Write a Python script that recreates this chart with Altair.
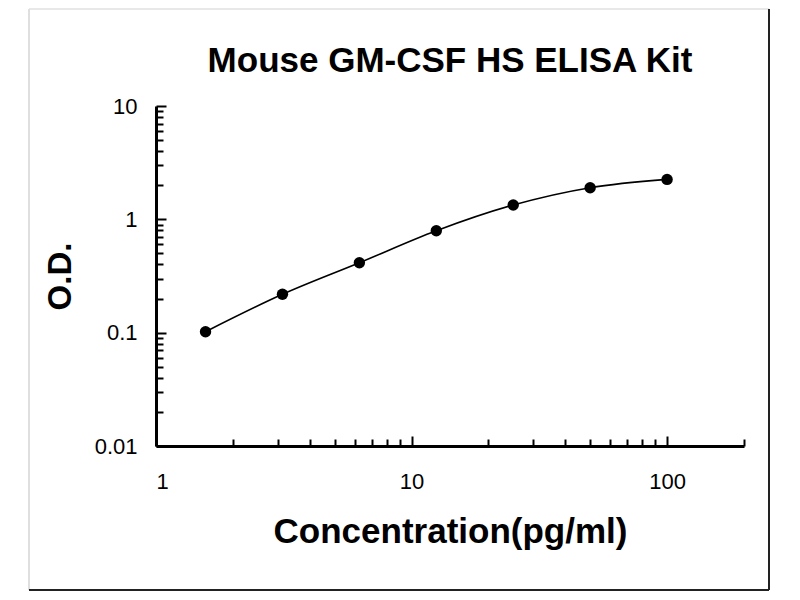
import altair as alt
import pandas as pd

# Standard curve data
conc = [1.5625, 3.125, 6.25, 12.5, 25, 50, 100]
od = [0.102, 0.218, 0.414, 0.793, 1.337, 1.90, 2.25]

x_tick_values = [1, 2, 3, 4, 5, 6, 7, 8, 9, 10, 20, 30, 40, 50, 60, 70, 80, 90, 100, 200]
y_tick_values = [0.01, 0.02, 0.03, 0.04, 0.05, 0.06, 0.07, 0.08, 0.09,
                 0.1, 0.2, 0.3, 0.4, 0.5, 0.6, 0.7, 0.8, 0.9,
                 1, 2, 3, 4, 5, 6, 7, 8, 9, 10]
x_label_values = [1, 10, 100]
y_label_values = [0.01, 0.1, 1, 10]

df = pd.DataFrame({"conc": conc, "od": od})

W, H = 588, 340
FONT = "Liberation Sans"


def is_in(vals):
    return " || ".join(f"datum.value == {v}" for v in vals)


x_scale = alt.Scale(type="log", domain=[1, 200], nice=False)
y_scale = alt.Scale(type="log", domain=[0.01, 10], nice=False)

# Axes carrying labels, domain lines and titles (no ticks)
x_label_axis = alt.Axis(
    orient="bottom",
    values=x_label_values,
    format="~g",
    labelFont=FONT, labelFontSize=22, labelColor="black", labelPadding=25,
    ticks=False, tickSize=0,
    domainWidth=3, domainColor="black",
    grid=False,
    title="Concentration(pg/ml)",
    titleFont=FONT, titleFontSize=35, titleFontWeight="bold", titleColor="black",
    titleBaseline="alphabetic", titleY=96,
)
y_label_axis = alt.Axis(
    orient="left",
    values=y_label_values,
    format="~g",
    labelFont=FONT, labelFontSize=22, labelColor="black", labelPadding=19,
    ticks=False, tickSize=0,
    domainWidth=3, domainColor="black",
    grid=False,
    title="O.D.",
    titleFont=FONT, titleFontSize=33, titleFontWeight="bold", titleColor="black",
    titleBaseline="alphabetic", titleX=-86,
)

# Axes carrying only the inward-pointing ticks (placed on the same edges)
x_tick_axis = alt.Axis(
    orient="top", offset=-H,
    values=x_tick_values,
    labels=False, domain=False, grid=False, title=None,
    tickColor="black", tickWidth=2,
    tickSize={"condition": {"test": is_in(x_label_values), "value": 10}, "value": 7},
)
y_tick_axis = alt.Axis(
    orient="right", offset=-W,
    values=y_tick_values,
    labels=False, domain=False, grid=False, title=None,
    tickColor="black", tickWidth=2,
    tickSize={"condition": {"test": is_in(y_label_values), "value": 10}, "value": 7},
)

base = alt.Chart(df)

line = base.mark_line(color="black", strokeWidth=1.6, interpolate="monotone").encode(
    x=alt.X("conc:Q", scale=x_scale, axis=x_label_axis),
    y=alt.Y("od:Q", scale=y_scale, axis=y_label_axis),
)
pts = base.mark_point(filled=True, color="black", size=130, opacity=1).encode(
    x=alt.X("conc:Q", scale=x_scale, axis=x_tick_axis),
    y=alt.Y("od:Q", scale=y_scale, axis=y_tick_axis),
)

frame_df = pd.DataFrame({"a": [0]})
frame_left = alt.Chart(frame_df).mark_rule(color="#d4d4d4", strokeWidth=1.5).encode(
    x=alt.value(-127), y=alt.value(-97), y2=alt.value(484))
frame_top = alt.Chart(frame_df).mark_rule(color="#e0e0e0", strokeWidth=1.5).encode(
    y=alt.value(-97), x=alt.value(-127), x2=alt.value(613))
frame_right = alt.Chart(frame_df).mark_rule(color="#222222", strokeWidth=2).encode(
    x=alt.value(613), y=alt.value(-97), y2=alt.value(484))
frame_bottom = alt.Chart(frame_df).mark_rule(color="#222222", strokeWidth=2).encode(
    y=alt.value(484), x=alt.value(-127), x2=alt.value(613))

chart = alt.layer(line, pts, frame_left, frame_top, frame_right, frame_bottom).resolve_axis(
    x="independent", y="independent"
).properties(
    width=W,
    height=H,
    title=alt.Title(
        "Mouse GM-CSF HS ELISA Kit",
        font=FONT, fontSize=35, fontWeight="bold", color="black",
        anchor="middle", frame="group", baseline="alphabetic", offset=0, dy=99,
    ),
    autosize=alt.AutoSizeParams(type="none"),
    padding={"left": 148, "top": 98, "right": 26, "bottom": 146},
    background="white",
).configure_view(stroke=None)

chart.save("out.html", embed_options={"renderer": "svg", "actions": False})
